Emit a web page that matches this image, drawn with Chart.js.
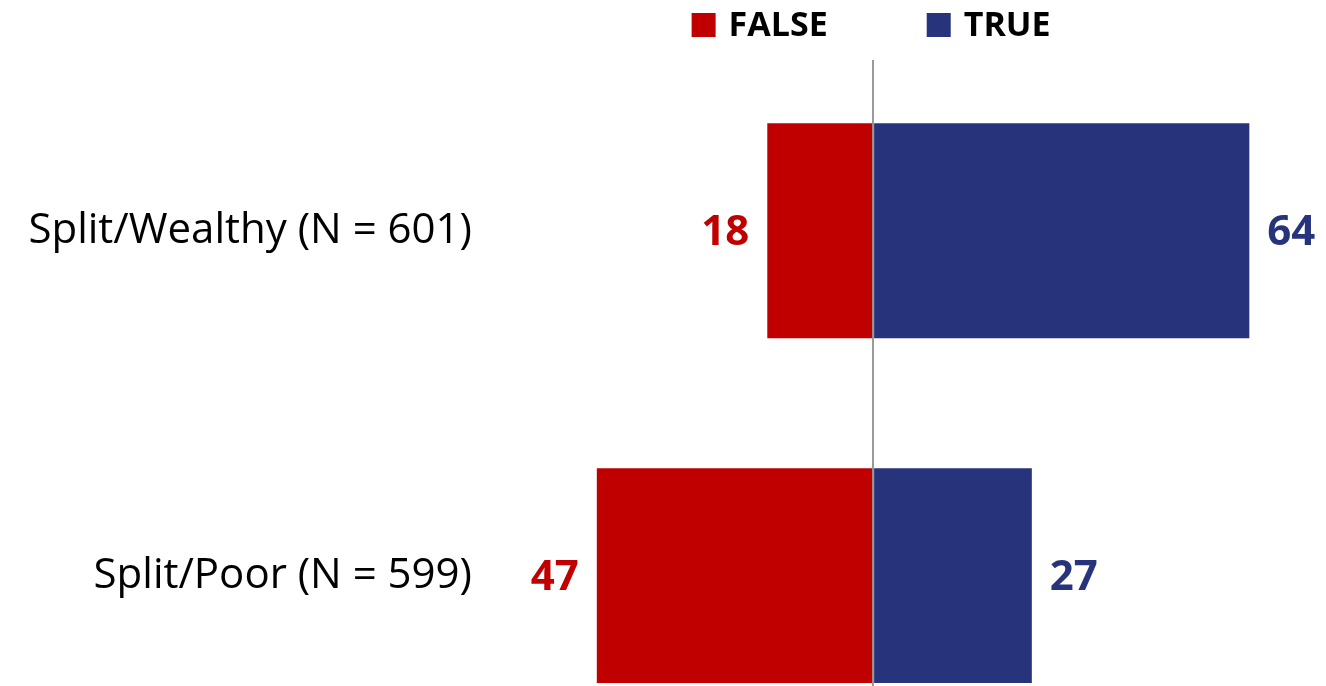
<!DOCTYPE html>
<html>
<head>
<meta charset="utf-8">
<script src="https://cdn.jsdelivr.net/npm/chart.js@4"></script>
<style>
  html, body { margin: 0; padding: 0; background: #ffffff; overflow: hidden; }
  #wrap { width: 1326px; height: 686px; }
</style>
</head>
<body>
<div id="wrap"><canvas id="c" width="1326" height="686"></canvas></div>
<script>
// ---- data ----
const categories = ['Split/Wealthy (N = 601)', 'Split/Poor (N = 599)'];
const seriesLabels = ['FALSE', 'TRUE'];
const falseValues = [18, 47];
const trueValues = [64, 27];

// ---- styles ----
const RED = '#C00000';
const NAVY = '#27337A';
const FONT = '"Open Sans", "Liberation Sans", sans-serif';

const falseData = falseValues.map((v, i) => ({ x: -v, y: i }));
const trueData = trueValues.map((v, i) => ({ x: v, y: i }));

const valueLabels = {
  id: 'valueLabels',
  afterDatasetsDraw(chart) {
    const ctx = chart.ctx;
    ctx.save();
    ctx.font = 'bold 42px ' + FONT;
    ctx.textBaseline = 'middle';
    chart.data.datasets.forEach((ds, di) => {
      const meta = chart.getDatasetMeta(di);
      meta.data.forEach((el, i) => {
        const v = ds.data[i].x;
        ctx.fillStyle = ds.backgroundColor;
        if (v < 0) {
          ctx.textAlign = 'right';
          ctx.fillText(String(Math.abs(v)), el.x - 18, el.y + 2);
        } else {
          ctx.textAlign = 'left';
          ctx.fillText(String(Math.abs(v)), el.x + 18, el.y + 2);
        }
      });
    });
    ctx.restore();
  }
};

const topLegend = {
  id: 'topLegend',
  afterDraw(chart) {
    const ctx = chart.ctx;
    const xs = chart.scales.x;
    const zero = xs.getPixelForValue(0);
    ctx.save();
    ctx.font = 'bold 34px ' + FONT;
    ctx.textBaseline = 'middle';
    ctx.textAlign = 'left';
    const box = 24, gapBox = 13, gapItem = 99;
    const items = chart.data.datasets.map(ds => ({ text: ds.label, color: ds.backgroundColor, w: ctx.measureText(ds.label).width }));
    let total = 0;
    items.forEach((it, k) => { total += box + gapBox + it.w + (k < items.length - 1 ? gapItem : 0); });
    let x = zero - total / 2 - 2;
    const cy = 25;
    items.forEach(it => {
      ctx.fillStyle = it.color;
      ctx.fillRect(x, cy - box / 2, box, box);
      x += box + gapBox;
      ctx.fillStyle = '#000000';
      ctx.fillText(it.text, x, cy + 1);
      x += it.w + gapItem;
    });
    ctx.restore();
  }
};

new Chart(document.getElementById('c'), {
  type: 'bar',
  data: {
    datasets: [
      { label: seriesLabels[0], data: falseData, backgroundColor: RED, borderWidth: 0, barPercentage: 0.623, categoryPercentage: 1.0 },
      { label: seriesLabels[1], data: trueData, backgroundColor: NAVY, borderWidth: 0, barPercentage: 0.623, categoryPercentage: 1.0 }
    ]
  },
  options: {
    responsive: false,
    animation: false,
    indexAxis: 'y',
    layout: { padding: { top: 60, right: 12, bottom: 0, left: 0 } },
    plugins: {
      legend: { display: false },
      tooltip: { enabled: false }
    },
    scales: {
      x: {
        type: 'linear',
        stacked: true,
        min: -65,
        max: 75,
        z: 1,
        ticks: { display: false, stepSize: 5 },
        border: { display: false },
        grid: {
          drawTicks: false,
          lineWidth: 2,
          color: (c) => (c.tick && c.tick.value === 0) ? '#9a9a9a' : 'rgba(0,0,0,0)'
        },
        afterFit(scale) { scale.height = 0; }
      },
      y: {
        type: 'linear',
        stacked: true,
        reverse: true,
        offset: false,
        min: -0.495,
        max: 1.32,
        border: { display: false },
        grid: { display: false, drawTicks: false, offset: false },
        afterBuildTicks(scale) {
          scale.ticks = categories.map((_, i) => ({ value: i }));
        },
        ticks: {
          padding: 19,
          color: '#000000',
          font: { family: FONT, size: 42 },
          callback: (v) => Number.isInteger(v) ? categories[v] : ''
        },
        afterFit(scale) {
          scale.width = 491;
          scale.paddingTop = 0;
          scale.paddingBottom = 0;
        }
      }
    }
  },
  plugins: [valueLabels, topLegend]
});
</script>
</body>
</html>
